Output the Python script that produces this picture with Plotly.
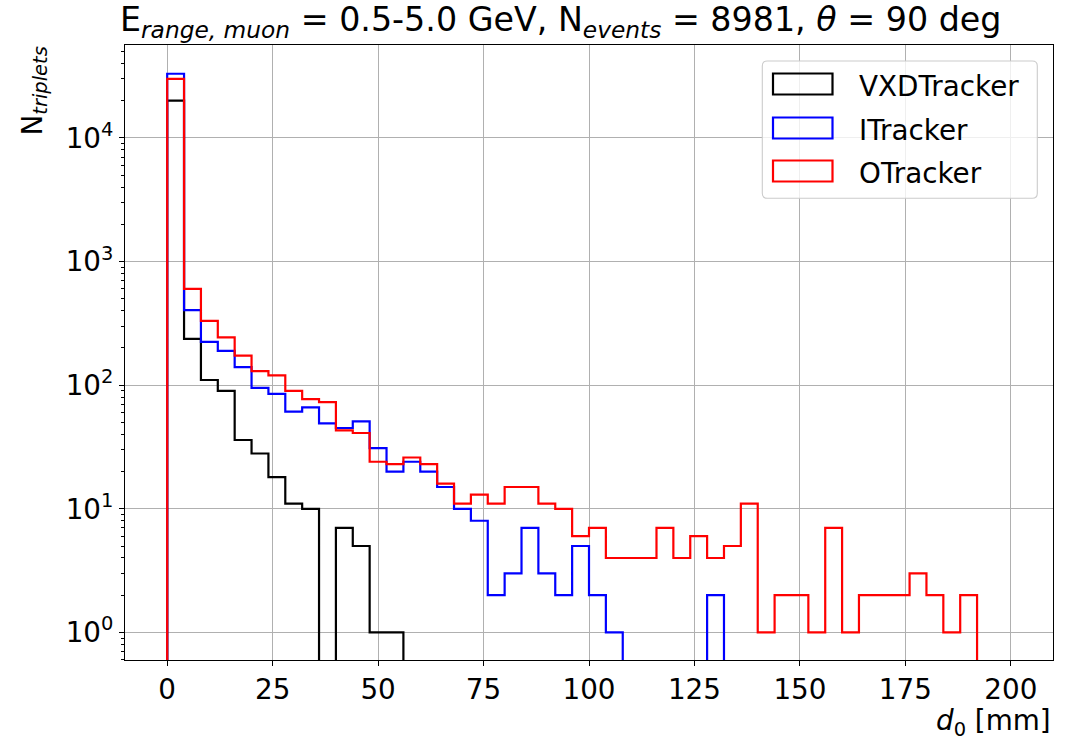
import plotly.graph_objects as go

# Histogram binning of the transverse impact parameter d0 [mm]
bin_edges = list(range(0, 201, 4))

# Triplet counts per 4 mm bin for each tracker subsystem
vxd_counts = [20000, 237, 110, 90, 36, 28, 18, 11, 10, 0,
              7, 5, 1, 1, 0, 0, 0, 0, 0, 0,
              0, 0, 0, 0, 0, 0, 0, 0, 0, 0,
              0, 0, 0, 0, 0, 0, 0, 0, 0, 0,
              0, 0, 0, 0, 0, 0, 0, 0, 0, 0]
itracker_counts = [33000, 405, 224, 189, 140, 95, 85, 61, 66, 49,
                   45, 51, 31, 20, 24, 20, 15, 10, 8, 2,
                   3, 7, 3, 2, 5, 2, 1, 0, 0, 0,
                   0, 0, 2, 0, 0, 0, 0, 0, 0, 0,
                   0, 0, 0, 0, 0, 0, 0, 0, 0, 0]
otracker_counts = [30000, 600, 331, 243, 173, 130, 120, 90, 77, 73,
                   43, 41, 24, 23, 26, 23, 16, 11, 13, 11,
                   15, 15, 11, 10, 6, 7, 4, 4, 4, 7,
                   4, 6, 4, 5, 11, 1, 2, 2, 1, 7,
                   1, 2, 2, 2, 3, 2, 1, 2, 0, 0]

series_names = ["VXDTracker", "ITracker", "OTracker"]
series_colors = ["#000000", "#0000ff", "#ff0000"]

x_ticks = [0, 25, 50, 75, 100, 125, 150, 175, 200]
y_ticks = [1, 10, 100, 1000, 10000]
y_ticktext = ["10<sup>0</sup>", "10<sup>1</sup>", "10<sup>2</sup>",
              "10<sup>3</sup>", "10<sup>4</sup>"]

FONT = "DejaVu Sans"
FS = 27.8
TITLE_FS = 33.3

W, H = 1074, 741
L, R, T, B = 125, 21, 45, 81
PW, PH = W - L - R, H - T - B


def px_x(p):
    return (p - L) / PW


def px_y(p):
    return (H - B - p) / PH


def step_outline(counts, floor=1e-2):
    # Outline of an unfilled step histogram; empty bins sit below the axis
    xs = [bin_edges[0]] + bin_edges[:-1] + [bin_edges[-1]]
    ys = [floor] + [c if c > 0 else floor for c in counts] + [floor]
    return xs, ys


fig = go.Figure()
for name, counts, color in zip(series_names,
                               [vxd_counts, itracker_counts, otracker_counts],
                               series_colors):
    xs, ys = step_outline(counts)
    fig.add_trace(go.Scatter(x=xs, y=ys, mode="lines", name=name,
                             line=dict(color=color, width=2.2, shape="hv"),
                             showlegend=False, hoverinfo="skip"))

# Minor ticks of the log axis
minor_vals = [k * 10 ** d for d in range(-1, 5) for k in range(2, 10)]

fig.update_layout(
    width=W, height=H, autosize=False,
    margin=dict(l=L, r=R, t=T, b=B, autoexpand=False),
    paper_bgcolor="white", plot_bgcolor="white",
    font=dict(family=FONT, size=FS, color="black"),
    xaxis=dict(range=[-10, 210], tickvals=x_ticks,
               ticktext=[str(v) for v in x_ticks],
               showgrid=True, gridcolor="#b0b0b0", gridwidth=1.1,
               showline=True, mirror=True, linecolor="black", linewidth=1.1,
               ticks="outside", ticklen=5, tickwidth=1.1, tickcolor="black",
               zeroline=False, tickfont=dict(size=FS)),
    yaxis=dict(type="log", range=[-0.223, 4.751], tickvals=y_ticks,
               ticktext=y_ticktext,
               showgrid=True, gridcolor="#b0b0b0", gridwidth=1.1,
               showline=True, mirror=True, linecolor="black", linewidth=1.1,
               ticks="outside", ticklen=5, tickwidth=1.1, tickcolor="black",
               zeroline=False, tickfont=dict(size=FS),
               minor=dict(tickvals=minor_vals, ticks="outside", ticklen=3,
                          tickwidth=0.8, tickcolor="black", showgrid=False)),
)

annotations = [
    # Title
    dict(text="E<sub><i>range, muon</i></sub> = 0.5-5.0 GeV, N<sub><i>events</i></sub> = 8981, <i>θ</i> = 90 deg",
         xref="paper", yref="paper", x=px_x(560.5), y=1.0,
         xanchor="center", yanchor="bottom", yshift=0, showarrow=False,
         font=dict(size=TITLE_FS)),
    # Axis labels
    dict(text="<i>d</i><sub>0</sub> [mm]", xref="paper", yref="paper",
         x=1.0, y=0.0, xanchor="right", yanchor="middle", yshift=-62,
         showarrow=False, font=dict(size=FS)),
    dict(text="N<sub><i>triplets</i></sub>", xref="paper", yref="paper",
         x=px_x(34), y=1.0, xanchor="center", yanchor="top",
         textangle=-90, showarrow=False, font=dict(size=FS)),
]

# Legend: rounded frame, outlined patches and labels
lx0, lx1, ly0, ly1, rad = 762.3, 1037.3, 61.0, 198.3, 5.0
frame = (f"M {px_x(lx0 + rad)},{px_y(ly0)} L {px_x(lx1 - rad)},{px_y(ly0)} "
         f"Q {px_x(lx1)},{px_y(ly0)} {px_x(lx1)},{px_y(ly0 + rad)} "
         f"L {px_x(lx1)},{px_y(ly1 - rad)} "
         f"Q {px_x(lx1)},{px_y(ly1)} {px_x(lx1 - rad)},{px_y(ly1)} "
         f"L {px_x(lx0 + rad)},{px_y(ly1)} "
         f"Q {px_x(lx0)},{px_y(ly1)} {px_x(lx0)},{px_y(ly1 - rad)} "
         f"L {px_x(lx0)},{px_y(ly0 + rad)} "
         f"Q {px_x(lx0)},{px_y(ly0)} {px_x(lx0 + rad)},{px_y(ly0)} Z")
shapes = [dict(type="path", path=frame, xref="paper", yref="paper",
               fillcolor="rgba(255,255,255,0.8)",
               line=dict(color="#cccccc", width=1.1), layer="above")]

row_centers = [84.0, 128.0, 171.0]
for name, color, yc in zip(series_names, series_colors, row_centers):
    shapes.append(dict(type="rect", xref="paper", yref="paper",
                       x0=px_x(773), x1=px_x(832.5),
                       y0=px_y(yc - 10.5), y1=px_y(yc + 10.5),
                       line=dict(color=color, width=2.2),
                       fillcolor="rgba(0,0,0,0)", layer="above"))
    annotations.append(dict(text=name, xref="paper", yref="paper",
                            x=px_x(857), y=px_y(yc + 2), xanchor="left",
                            yanchor="middle", showarrow=False,
                            font=dict(size=FS)))

fig.update_layout(annotations=annotations, shapes=shapes)
fig.write_html("out.html")
